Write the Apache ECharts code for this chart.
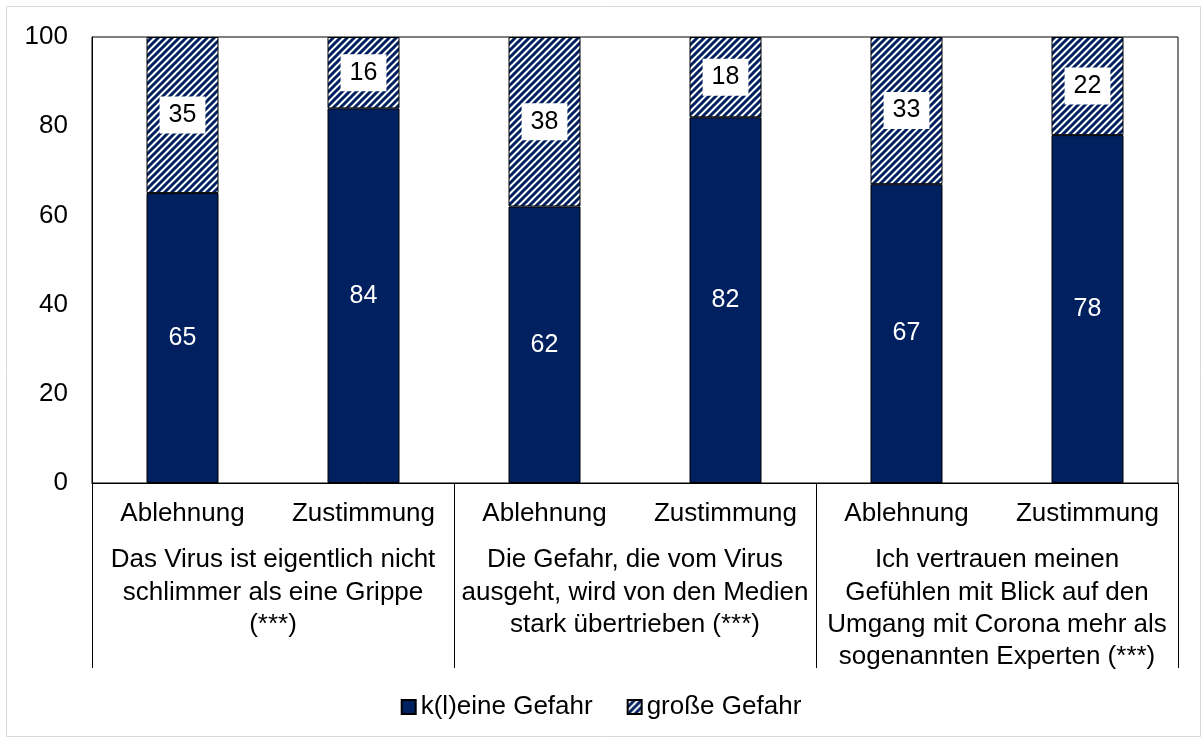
<!DOCTYPE html>
<html>
<head>
<meta charset="utf-8">
<script src="https://cdn.jsdelivr.net/npm/echarts@6/dist/echarts.min.js"></script>
<style>
  html, body { margin: 0; padding: 0; background: #fff; }
  #chart { width: 1202px; height: 738px; }
</style>
</head>
<body>
<div id="chart"></div>
<script>
const answers = ["Ablehnung", "Zustimmung", "Ablehnung", "Zustimmung", "Ablehnung", "Zustimmung"];
const statements = [
  "Das Virus ist eigentlich nicht\nschlimmer als eine Grippe\n(***)",
  "Die Gefahr, die vom Virus\nausgeht, wird von den Medien\nstark übertrieben (***)",
  "Ich vertrauen meinen\nGefühlen mit Blick auf den\nUmgang mit Corona mehr als\nsogenannten Experten (***)"
];
const kleineGefahr = [65, 84, 62, 82, 67, 78];
const grosseGefahr = [35, 16, 38, 18, 33, 22];
const yTicks = [0, 20, 40, 60, 80, 100];

const navy = "#002060";
const font = "'Liberation Sans', Arial, sans-serif";

// diagonal hatch tile
function hatch() {
  const s = 7;
  const c = document.createElement("canvas");
  c.width = s; c.height = s;
  const g = c.getContext("2d");
  g.fillStyle = "#fff";
  g.fillRect(0, 0, s, s);
  g.strokeStyle = navy;
  g.lineWidth = 3;
  g.beginPath();
  g.moveTo(0, s); g.lineTo(s, 0);
  g.moveTo(-2, 2); g.lineTo(2, -2);
  g.moveTo(s - 2, s + 2); g.lineTo(s + 2, s - 2);
  g.stroke();
  return c;
}

const chart = echarts.init(document.getElementById("chart"), null, { renderer: "canvas" });

chart.setOption({
  backgroundColor: "#fff",
  animation: false,
  textStyle: { fontFamily: font },
  graphic: [{
    type: "rect",
    shape: { x: 6.5, y: 6.5, width: 1194, height: 730 },
    style: { fill: "none", stroke: "#d9d9d9", lineWidth: 1 },
    silent: true
  }],
  grid: {
    left: 92, right: 24, top: 37, bottom: 255,
    show: true, borderColor: "#000", borderWidth: 1, backgroundColor: "transparent"
  },
  legend: {
    bottom: 13,
    left: "center",
    itemWidth: 14,
    itemHeight: 14,
    itemGap: 34,
    icon: "rect",
    textStyle: { fontFamily: font, fontSize: 26, color: "#000" },
    data: ["k(l)eine Gefahr", "große Gefahr"]
  },
  xAxis: [
    {
      type: "category",
      data: answers,
      position: "bottom",
      axisLine: { lineStyle: { color: "#000", width: 1 } },
      axisTick: { show: false },
      axisLabel: { interval: 0, margin: 18, fontSize: 26, color: "#000", fontFamily: font }
    },
    {
      type: "category",
      data: statements,
      position: "bottom",
      axisLine: { show: false },
      axisTick: { show: true, length: 185, lineStyle: { color: "#000", width: 1 } },
      axisLabel: {
        interval: 0, margin: 61, fontSize: 26, lineHeight: 32.3,
        color: "#000", fontFamily: font, align: "center"
      }
    }
  ],
  yAxis: {
    type: "value",
    min: 0, max: 100, interval: 20,
    axisLine: { show: true, lineStyle: { color: "#000", width: 1 } },
    axisTick: { show: false },
    splitLine: { show: false },
    axisLabel: {
      margin: 24, fontSize: 26, color: "#000", fontFamily: font,
      formatter: (v) => (yTicks.includes(v) ? String(v) : "")
    }
  },
  series: [
    {
      name: "k(l)eine Gefahr",
      type: "bar",
      stack: "total",
      xAxisIndex: 0,
      barWidth: 72,
      data: kleineGefahr,
      itemStyle: { color: navy, borderColor: "#000", borderWidth: 1 },
      label: { show: true, position: "inside", color: "#fff", fontSize: 25, fontFamily: font }
    },
    {
      name: "große Gefahr",
      type: "bar",
      stack: "total",
      xAxisIndex: 0,
      barWidth: 72,
      data: grosseGefahr,
      itemStyle: { color: { image: hatch(), repeat: "repeat" }, borderColor: "#000", borderWidth: 1 },
      label: {
        show: true, position: "inside", color: "#000", fontSize: 25, fontFamily: font,
        backgroundColor: "#fff", padding: [7, 9, 5, 9]
      }
    }
  ]
});
</script>
</body>
</html>
